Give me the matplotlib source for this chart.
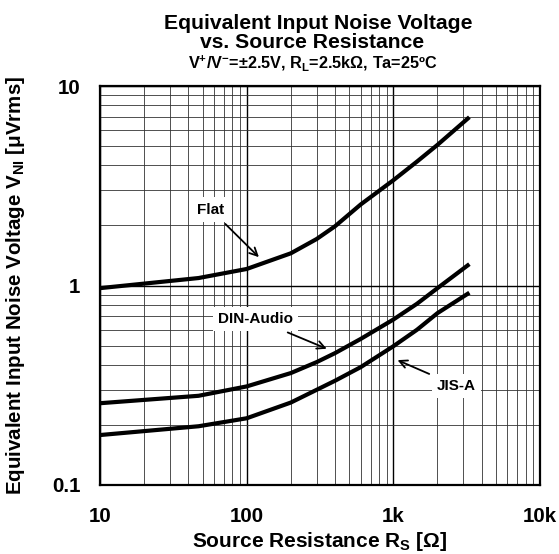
import numpy as np
import matplotlib
matplotlib.use('Agg')
import matplotlib.pyplot as plt
from matplotlib.ticker import FixedLocator, NullFormatter

plt.rcParams['font.family'] = ['Liberation Sans', 'DejaVu Sans']
plt.rcParams['font.weight'] = 'bold'
plt.rcParams['axes.labelweight'] = 'bold'
plt.rcParams['mathtext.fontset'] = 'custom'
plt.rcParams['mathtext.rm'] = 'Liberation Sans:bold'
plt.rcParams['mathtext.it'] = 'Liberation Sans:bold'
plt.rcParams['mathtext.bf'] = 'Liberation Sans:bold'

# source resistance [ohm]
rs = [10, 47, 100, 200, 300, 400, 600, 1000, 1450, 2000, 3300]
# noise voltage [uVrms]
flat = [0.97, 1.09, 1.21, 1.45, 1.71, 1.98, 2.55, 3.37, 4.18, 5.07, 6.98]
din_audio = [0.257, 0.28, 0.312, 0.364, 0.413, 0.458, 0.54, 0.675, 0.81, 0.97, 1.28]
jis_a = [0.178, 0.197, 0.216, 0.259, 0.30, 0.333, 0.39, 0.496, 0.60, 0.727, 0.92]

x_ticks = [10, 100, 1000, 10000]
x_labels = ['10', '100', '1k', '10k']
y_ticks = [0.1, 1, 10]
y_labels = ['0.1', '1', '10']

fig = plt.figure(figsize=(5.59, 5.54), dpi=100)
ax = fig.add_axes([100/559, 1-485/554, 440/559, 399/554])

ax.set_xscale('log')
ax.set_yscale('log')
ax.set_xlim(10, 10000)
ax.set_ylim(0.1, 10)

# grid like the datasheet paper
minor_x = [m*10**d for d in range(1, 4) for m in range(2, 10)]
minor_y = [m*10**d for d in range(-1, 1) for m in range(2, 10)]
ax.xaxis.set_minor_locator(FixedLocator(minor_x))
ax.yaxis.set_minor_locator(FixedLocator(minor_y))
ax.xaxis.set_minor_formatter(NullFormatter())
ax.yaxis.set_minor_formatter(NullFormatter())
ax.grid(which='major', color='black', lw=1.0)
ax.grid(which='minor', color='#333333', lw=0.6)
ax.set_axisbelow(True)

ax.set_xticks(x_ticks)
ax.set_xticklabels(x_labels)
ax.set_yticks(y_ticks)
ax.set_yticklabels(y_labels)
ax.tick_params(which='both', length=0, labelsize=14.8)
ax.tick_params(axis='x', pad=16)
ax.tick_params(axis='y', pad=14)
for s in ax.spines.values():
    s.set_linewidth(1.6)

for ys in (flat, din_audio, jis_a):
    ax.plot(rs, ys, color='black', lw=3, solid_capstyle='butt')

box = dict(boxstyle='square,pad=0.35', fc='white', ec='none')
arr = dict(arrowstyle='->', color='black', lw=1.3, mutation_scale=14)
ax.annotate('Flat', xy=(125, 1.356), xytext=(57, 2.4), fontsize=11,
            ha='center', va='center', bbox=box, arrowprops=arr)
ax.annotate('DIN-Audio', xy=(366, 0.476), xytext=(115, 0.679), fontsize=11,
            ha='center', va='center', bbox=box, arrowprops=arr)
ax.annotate('JIS-A', xy=(1026, 0.428), xytext=(2700, 0.314), fontsize=11,
            ha='center', va='center', bbox=box, arrowprops=arr)

ax.set_xlabel('Source Resistance R$_\\mathregular{S}$ [\u03a9]', fontsize=15, labelpad=3)
ax.set_ylabel('Equivalent Input Noise Voltage V$_\\mathregular{NI}$ [\u03bcVrms]',
              fontsize=14.8)
ax.yaxis.set_label_coords(-0.166, 0.5)

fig.text(318/559, 1-23.5/554, 'Equivalent Input Noise Voltage', ha='center', va='center', fontsize=15.2)
fig.text(312/559, 1-42/554, 'vs. Source Resistance', ha='center', va='center', fontsize=15.2)
fig.text(313/559, 1-63.5/554, 'V$^{+}$/V$^{-}$=\u00b12.5V, R$_\\mathregular{L}$=2.5k\u03a9, Ta=25\u00baC',
         ha='center', va='center', fontsize=11.7)

fig.savefig('out.png', dpi=100)
